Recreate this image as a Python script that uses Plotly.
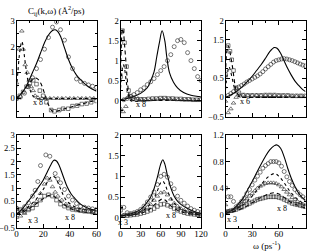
import plotly.graph_objects as go

# ---------------- data ----------------
# Panel 1 (top-left)
p1_solid_x = [0, 3, 6, 9, 12, 15, 18, 21, 24, 27, 29, 31, 33, 36, 39, 42, 45, 48, 51, 54, 57, 60]
p1_solid_y = [0.0, 0.15, 0.35, 0.65, 1.0, 1.35, 1.75, 2.15, 2.45, 2.62, 2.65, 2.58, 2.4, 1.95, 1.5, 1.15, 0.9, 0.72, 0.57, 0.45, 0.35, 0.28]
p1_circ_x = [0, 3, 6, 9, 12, 15, 18, 21, 24, 27, 30, 33, 36, 39, 42, 45, 48, 51, 54, 57, 60]
p1_circ_y = [0.0, 0.05, 0.2, 0.45, 0.8, 1.15, 1.5, 1.9, 2.35, 2.75, 2.95, 2.65, 2.25, 1.6, 1.15, 0.75, 0.65, 0.58, 0.52, 0.47, 0.42]
p1_dot_x = [0, 1, 2, 3, 4, 5, 6, 7, 8, 9, 10, 12, 14, 16, 20, 30, 40, 50, 60]
p1_dot_y = [0.4, 1.0, 1.6, 2.0, 2.2, 2.0, 1.6, 1.2, 0.85, 0.55, 0.35, 0.12, 0.02, -0.02, 0.0, 0.0, 0.0, 0.0, 0.0]
p1_tri_x = [0, 2, 4, 5, 6.5, 8, 9.5, 11, 12.5, 14, 16, 19, 22, 25, 28, 31, 34, 37, 40, 43, 46, 49, 52, 55, 58]
p1_tri_y = [0.6, 1.9, 2.6, 1.9, 1.3, 1.0, 0.7, 0.45, 0.3, 0.1, 0.03, 0.0, 0.0, 0.0, 0.0, 0.0, 0.0, 0.0, 0.0, 0.0, 0.0, 0.0, 0.0, 0.0, 0.0]
p1_dash_x = [0, 3, 6, 9, 12, 15, 18, 21, 24, 27, 30, 33, 36, 40, 45, 50, 55, 60]
p1_dash_y = [0.0, 0.15, 0.35, 0.55, 0.72, 0.78, 0.6, 0.2, -0.25, -0.5, -0.5, -0.45, -0.4, -0.35, -0.27, -0.2, -0.13, -0.08]
p1_sq_x = [0, 2.5, 5, 7.5, 10, 12.5, 15, 17.5, 20, 22.5, 26, 28.5, 32, 35, 38.8, 42, 45.5, 49, 52.6, 56, 60]
p1_sq_y = [0.0, 0.1, 0.25, 0.45, 0.6, 0.7, 0.55, 0.3, 0.1, -0.15, -0.45, -0.5, -0.45, -0.4, -0.4, -0.3, -0.28, -0.22, -0.2, -0.15, -0.1]

# Panel 2 (top-middle)
p2_solid_x = [0, 10, 20, 30, 40, 44, 50, 54, 58, 62, 66, 69, 73, 79, 85, 94, 105, 117, 120]
p2_solid_y = [0.02, 0.05, 0.1, 0.18, 0.32, 0.46, 0.72, 1.09, 1.45, 1.75, 1.5, 1.09, 0.7, 0.46, 0.32, 0.2, 0.13, 0.1, 0.09]
p2_circ_x = [5, 10, 15, 20, 25, 30, 35, 40, 45, 50, 55, 60, 65, 70, 75, 80, 85, 90, 95, 100, 105, 110, 115, 120]
p2_circ_y = [0.02, 0.05, 0.1, 0.15, 0.2, 0.27, 0.32, 0.4, 0.47, 0.55, 0.65, 0.75, 0.85, 1.0, 1.15, 1.35, 1.5, 1.53, 1.45, 1.2, 1.0, 0.8, 0.6, 0.5]
p2_dot_x = [0, 2, 4, 6, 8, 10, 12, 15, 20, 40, 60, 80, 100, 120]
p2_dot_y = [0.3, 0.7, 0.9, 0.8, 0.55, 0.3, 0.12, 0.0, -0.02, 0.0, 0.0, 0.0, 0.0, 0.0]
p2_tri_x = [0, 4, 8, 12, 16, 20, 26, 32, 38, 44, 50, 56, 62, 68, 74, 80, 86, 92, 98, 104, 110, 116]
p2_tri_y = [-0.2, -0.28, -0.15, 0.1, 0.12, 0.08, 0.05, 0.03, 0.02, 0.02, 0.03, 0.04, 0.05, 0.05, 0.04, 0.03, 0.03, 0.02, 0.02, 0.02, 0.01, 0.01]
p2_dash_x = [0, 1.5, 3, 4.5, 6, 7.5, 9, 10.5, 12, 14, 17, 20, 40, 60, 80, 100, 120]
p2_dash_y = [0.6, 1.5, 1.8, 1.7, 1.4, 1.1, 0.75, 0.45, 0.22, 0.08, 0.02, 0.0, 0.0, 0.01, 0.01, 0.0, 0.0]
p2_sq_x = [0, 3, 6, 9, 12, 18, 24, 30, 36, 42, 48, 54, 60, 66, 72, 78, 84, 90, 96, 102, 108, 114, 120]
p2_sq_y = [0.6, 1.75, 1.45, 0.85, 0.25, 0.04, 0.03, 0.03, 0.03, 0.04, 0.05, 0.05, 0.06, 0.06, 0.05, 0.05, 0.04, 0.04, 0.03, 0.03, 0.02, 0.02, 0.02]

# Panel 3 (top-right)
p3_solid_x = [0, 5, 10, 15, 20, 25, 30, 35, 40, 45, 50, 55, 58, 62, 66, 70, 74, 78, 82, 86, 90]
p3_solid_y = [0.0, 0.05, 0.12, 0.2, 0.3, 0.42, 0.55, 0.7, 0.85, 1.02, 1.2, 1.3, 1.28, 1.15, 0.95, 0.75, 0.58, 0.43, 0.32, 0.22, 0.15]
p3_circ_x = [3, 6, 9, 12, 15, 18, 21, 24, 27, 30, 33, 36, 39, 42, 45, 48, 51, 54, 57, 60, 63, 66, 69, 72, 75, 78, 81, 84, 87, 90]
p3_circ_y = [0.05, 0.1, 0.15, 0.22, 0.27, 0.31, 0.35, 0.4, 0.44, 0.48, 0.52, 0.56, 0.61, 0.67, 0.74, 0.8, 0.86, 0.92, 0.96, 0.98, 1.0, 1.01, 1.0, 0.98, 0.96, 0.93, 0.9, 0.87, 0.84, 0.82]
p3_dot_x = [0, 2, 4, 6, 8, 10, 12, 15, 20, 40, 60, 90]
p3_dot_y = [0.2, 0.6, 0.8, 0.65, 0.45, 0.25, 0.1, 0.02, 0.0, 0.0, 0.0, 0.0]
p3_tri_x = [0, 3, 6, 9, 12, 15, 20, 25, 30, 35, 40, 45, 50, 55, 60, 65, 70, 75, 80, 85, 90]
p3_tri_y = [-0.1, -0.4, -0.3, -0.15, 0.0, 0.08, 0.06, 0.05, 0.05, 0.05, 0.05, 0.05, 0.05, 0.05, 0.04, 0.04, 0.04, 0.03, 0.03, 0.03, 0.03]
p3_dash_x = [0, 1.5, 3, 4.5, 6, 7.5, 9, 10.5, 12, 14, 17, 20, 40, 60, 90]
p3_dash_y = [0.6, 1.2, 1.35, 1.25, 1.05, 0.85, 0.6, 0.35, 0.18, 0.08, 0.02, 0.0, 0.0, 0.0, 0.0]
p3_sq_x = [0, 3, 5, 7, 9, 12, 15, 20, 25, 30, 35, 40, 45, 50, 55, 60, 65, 70, 75, 80, 85, 90]
p3_sq_y = [0.6, 1.35, 1.2, 0.98, 0.7, 0.25, 0.12, 0.06, 0.05, 0.05, 0.05, 0.05, 0.06, 0.06, 0.06, 0.05, 0.05, 0.05, 0.04, 0.04, 0.04, 0.04]

# Panel 4 (bottom-left)
p4_solid_x = [0, 4, 8, 12, 16, 20, 23, 26, 28, 30, 32, 35, 38, 41, 44, 48, 52, 56, 60]
p4_solid_y = [0.0, 0.2, 0.45, 0.72, 1.0, 1.3, 1.6, 1.9, 2.05, 2.02, 1.85, 1.45, 1.05, 0.78, 0.6, 0.4, 0.28, 0.2, 0.17]
p4_circ_x = [0, 3, 6, 9, 12, 14, 16, 18, 22, 25, 29, 31, 33, 36, 39, 42, 45, 48, 51, 54, 57, 60]
p4_circ_y = [0.25, 0.2, 0.3, 0.45, 0.7, 0.92, 1.25, 1.85, 2.25, 2.2, 1.55, 1.35, 1.2, 0.95, 0.7, 0.55, 0.42, 0.32, 0.28, 0.25, 0.22, 0.2]
p4_dot_x = [0, 5, 10, 15, 20, 24, 27, 29, 32, 35, 38, 42, 46, 50, 55, 60]
p4_dot_y = [0.05, 0.15, 0.35, 0.6, 0.95, 1.3, 1.45, 1.4, 1.1, 0.75, 0.5, 0.35, 0.25, 0.2, 0.15, 0.12]
p4_tri_x = [0, 3, 6, 9, 12, 15, 18, 21, 23, 25, 27, 29, 31, 34, 37, 40, 43, 46, 50, 55, 60]
p4_tri_y = [-0.1, -0.05, 0.05, 0.2, 0.35, 0.5, 0.8, 1.15, 1.38, 1.3, 1.05, 0.85, 0.7, 0.55, 0.4, 0.3, 0.25, 0.2, 0.15, 0.12, 0.1]
p4_dash_x = [0, 5, 10, 15, 20, 24, 27, 30, 34, 38, 42, 48, 54, 60]
p4_dash_y = [0.0, 0.1, 0.25, 0.42, 0.6, 0.72, 0.72, 0.62, 0.45, 0.3, 0.2, 0.12, 0.08, 0.05]
p4_sq_x = [0, 3, 6, 9, 12, 15, 18, 21, 24, 27, 30, 33, 36, 39, 42, 45, 48, 51, 54, 57, 60]
p4_sq_y = [0.22, 0.15, 0.12, 0.18, 0.25, 0.38, 0.55, 0.7, 0.75, 0.7, 0.55, 0.4, 0.32, 0.25, 0.2, 0.18, 0.15, 0.13, 0.12, 0.1, 0.1]

# Panel 5 (bottom-middle)
p5_solid_x = [0, 10, 20, 30, 40, 45, 50, 55, 60, 63, 66, 70, 75, 80, 85, 90, 100, 110, 120]
p5_solid_y = [0.05, 0.07, 0.12, 0.2, 0.38, 0.5, 0.7, 0.98, 1.3, 1.4, 1.3, 1.02, 0.72, 0.52, 0.4, 0.32, 0.22, 0.15, 0.1]
p5_circ_x = [0, 5, 10, 15, 20, 25, 30, 35, 40, 45, 50, 55, 60, 65, 70, 75, 80, 85, 90, 95, 100, 105, 110, 115, 120]
p5_circ_y = [0.25, 0.25, 0.12, 0.1, 0.12, 0.15, 0.2, 0.28, 0.38, 0.5, 0.62, 0.8, 1.0, 1.05, 0.98, 0.82, 0.7, 0.52, 0.42, 0.35, 0.28, 0.22, 0.18, 0.15, 0.12]
p5_dot_x = [0, 20, 30, 40, 50, 55, 60, 63, 66, 70, 75, 80, 90, 100, 120]
p5_dot_y = [0.05, 0.08, 0.15, 0.25, 0.48, 0.65, 0.85, 0.88, 0.82, 0.65, 0.48, 0.35, 0.22, 0.15, 0.08]
p5_tri_x = [0, 5, 10, 15, 20, 25, 30, 35, 40, 45, 50, 55, 60, 65, 70, 75, 80, 85, 90, 95, 100, 105, 110, 115, 120]
p5_tri_y = [0.05, 0.06, 0.07, 0.08, 0.1, 0.12, 0.15, 0.2, 0.25, 0.32, 0.42, 0.52, 0.6, 0.62, 0.55, 0.45, 0.35, 0.28, 0.22, 0.18, 0.15, 0.12, 0.1, 0.09, 0.08]
p5_dash_x = [0, 20, 30, 40, 50, 57, 62, 67, 72, 80, 90, 100, 120]
p5_dash_y = [0.05, 0.07, 0.1, 0.17, 0.3, 0.4, 0.45, 0.42, 0.33, 0.22, 0.15, 0.1, 0.07]
p5_sq_x = [0, 5, 10, 15, 20, 25, 30, 35, 40, 45, 50, 55, 60, 65, 70, 75, 80, 85, 90, 95, 100, 105, 110, 115, 120]
p5_sq_y = [0.18, 0.05, 0.05, 0.06, 0.07, 0.08, 0.1, 0.12, 0.15, 0.18, 0.22, 0.27, 0.32, 0.33, 0.3, 0.27, 0.22, 0.18, 0.15, 0.12, 0.1, 0.09, 0.08, 0.07, 0.06]

# Panel 6 (bottom-right)
p6_solid_x = [0, 5, 10, 15, 20, 25, 30, 35, 40, 45, 50, 55, 58, 62, 66, 70, 74, 78, 82, 86, 90]
p6_solid_y = [0.02, 0.05, 0.1, 0.17, 0.25, 0.38, 0.5, 0.63, 0.76, 0.88, 0.98, 1.04, 1.05, 1.0, 0.87, 0.7, 0.55, 0.43, 0.33, 0.26, 0.22]
p6_circ_x = [3, 6, 9, 12, 15, 18, 21, 24, 27, 30, 33, 36, 39, 42, 45, 48, 51, 54, 57, 60, 63, 66, 69, 72, 75, 78, 81, 84, 87, 90]
p6_circ_y = [0.27, 0.27, 0.2, 0.12, 0.15, 0.2, 0.25, 0.32, 0.38, 0.45, 0.52, 0.58, 0.64, 0.7, 0.74, 0.77, 0.8, 0.8, 0.8, 0.78, 0.73, 0.65, 0.57, 0.5, 0.44, 0.38, 0.34, 0.3, 0.27, 0.24]
p6_dot_x = [0, 10, 20, 30, 40, 48, 55, 60, 66, 72, 78, 84, 90]
p6_dot_y = [0.05, 0.08, 0.15, 0.28, 0.45, 0.57, 0.62, 0.58, 0.48, 0.36, 0.27, 0.2, 0.15]
p6_tri_x = [0, 3, 6, 9, 12, 15, 18, 21, 24, 27, 30, 33, 36, 39, 42, 45, 48, 51, 54, 57, 60, 63, 66, 69, 72, 75, 78, 81, 84, 87, 90]
p6_tri_y = [0.15, 0.05, 0.05, 0.07, 0.1, 0.13, 0.16, 0.2, 0.24, 0.28, 0.32, 0.36, 0.4, 0.43, 0.45, 0.47, 0.48, 0.48, 0.48, 0.47, 0.45, 0.42, 0.38, 0.34, 0.3, 0.26, 0.23, 0.2, 0.18, 0.16, 0.15]
p6_dash_x = [0, 10, 20, 30, 40, 48, 55, 60, 66, 72, 80, 90]
p6_dash_y = [0.02, 0.05, 0.1, 0.18, 0.26, 0.31, 0.33, 0.31, 0.26, 0.2, 0.15, 0.1]
p6_sq_x = [0, 3, 6, 9, 12, 15, 18, 21, 24, 27, 30, 33, 36, 39, 42, 45, 48, 51, 54, 57, 60, 63, 66, 69, 72, 75, 78, 81, 84, 87, 90]
p6_sq_y = [0.4, 0.05, 0.06, 0.07, 0.08, 0.1, 0.11, 0.13, 0.15, 0.17, 0.19, 0.21, 0.23, 0.24, 0.25, 0.26, 0.27, 0.27, 0.27, 0.27, 0.26, 0.25, 0.23, 0.21, 0.19, 0.17, 0.16, 0.15, 0.14, 0.13, 0.12]

# axis ranges / ticks per panel
x_ranges = [[0, 60], [0, 120], [0, 90], [0, 60], [0, 120], [0, 90]]
x_dticks = [20, 30, 30, 20, 30, 30]
y_ranges = [[-0.7, 3], [-0.4, 2], [-0.5, 2], [-0.5, 3], [-0.25, 2], [-0.2, 1.2]]
y_dticks = [1, 0.5, 0.5, 0.5, 0.5, 0.4]

# scale-factor labels: (panel, x, y, text)
scale_labels = [
    (1, 16, -0.17, "x 8"),
    (2, 31, -0.1, "x 8"),
    (3, 22, -0.1, "x 6"),
    (4, 12, -0.2, "x 3"),
    (4, 40, -0.1, "x 8"),
    (5, 4, -0.12, "x 3"),
    (5, 76, 0.05, "x 8"),
    (6, 7, -0.07, "x 3"),
    (6, 63, 0.1, "x 8"),
]

panels = [
    (p1_solid_x, p1_solid_y, p1_circ_x, p1_circ_y, p1_dot_x, p1_dot_y, p1_tri_x, p1_tri_y, p1_dash_x, p1_dash_y, p1_sq_x, p1_sq_y),
    (p2_solid_x, p2_solid_y, p2_circ_x, p2_circ_y, p2_dot_x, p2_dot_y, p2_tri_x, p2_tri_y, p2_dash_x, p2_dash_y, p2_sq_x, p2_sq_y),
    (p3_solid_x, p3_solid_y, p3_circ_x, p3_circ_y, p3_dot_x, p3_dot_y, p3_tri_x, p3_tri_y, p3_dash_x, p3_dash_y, p3_sq_x, p3_sq_y),
    (p4_solid_x, p4_solid_y, p4_circ_x, p4_circ_y, p4_dot_x, p4_dot_y, p4_tri_x, p4_tri_y, p4_dash_x, p4_dash_y, p4_sq_x, p4_sq_y),
    (p5_solid_x, p5_solid_y, p5_circ_x, p5_circ_y, p5_dot_x, p5_dot_y, p5_tri_x, p5_tri_y, p5_dash_x, p5_dash_y, p5_sq_x, p5_sq_y),
    (p6_solid_x, p6_solid_y, p6_circ_x, p6_circ_y, p6_dot_x, p6_dot_y, p6_tri_x, p6_tri_y, p6_dash_x, p6_dash_y, p6_sq_x, p6_sq_y),
]

# ---------------- layout geometry ----------------
W, H = 310, 252
x_px = [(16.5, 96.5), (120.5, 201), (225.5, 305.5)]
y_px = [(20.7, 116.5), (135, 228)]
FONT = "Liberation Serif, Times New Roman, serif"

fig = go.Figure()
layout = dict(width=W, height=H, margin=dict(l=0, r=0, t=0, b=0, autoexpand=False),
              paper_bgcolor="white", plot_bgcolor="white", showlegend=False,
              font=dict(family=FONT, size=9, color="black"))

for i in range(6):
    n = i + 1
    col = i % 3
    row = i // 3
    xa = "x" if n == 1 else f"x{n}"
    ya = "y" if n == 1 else f"y{n}"
    xkey = "xaxis" if n == 1 else f"xaxis{n}"
    ykey = "yaxis" if n == 1 else f"yaxis{n}"
    xd = [x_px[col][0] / W, x_px[col][1] / W]
    yd = [1 - y_px[row][1] / H, 1 - y_px[row][0] / H]
    common = dict(showline=True, linecolor="black", linewidth=1, mirror="ticks",
                  ticks="inside", ticklen=4, tickcolor="black", tickwidth=1,
                  showgrid=False, zeroline=False)
    layout[xkey] = dict(domain=xd, anchor=ya, range=x_ranges[i], dtick=x_dticks[i], tick0=0,
                        showticklabels=(row == 1), ticklabelstandoff=-3,
                        tickfont=dict(family=FONT, size=9, color="black"),
                        minor=dict(ticks="inside", ticklen=2, dtick=x_dticks[i] / 2, tickcolor="black"),
                        **common)
    layout[ykey] = dict(domain=yd, anchor=xa, range=y_ranges[i], dtick=y_dticks[i], tick0=0,
                        ticklabelstandoff=-1,
                        tickfont=dict(family=FONT, size=8.6, color="black"),
                        minor=dict(ticks="inside", ticklen=2, dtick=y_dticks[i] / 2, tickcolor="black"),
                        **common)

    sx, sy, cx, cy, dx, dy, tx, ty, ddx, ddy, qx, qy = panels[i]
    lw = 1.1
    fig.add_trace(go.Scatter(x=sx, y=sy, mode="lines", line=dict(color="black", width=lw, shape="spline"),
                             xaxis=xa, yaxis=ya))
    fig.add_trace(go.Scatter(x=dx, y=dy, mode="lines", line=dict(color="black", width=lw, dash="dot", shape="spline"),
                             xaxis=xa, yaxis=ya))
    fig.add_trace(go.Scatter(x=ddx, y=ddy, mode="lines", line=dict(color="black", width=lw, dash="4px,3px", shape="spline"),
                             xaxis=xa, yaxis=ya))
    mk = dict(color="#222", line=dict(width=0.6, color="#222"))
    fig.add_trace(go.Scatter(x=cx, y=cy, mode="markers",
                             marker=dict(symbol="circle-open", size=4, **mk),
                             xaxis=xa, yaxis=ya))
    fig.add_trace(go.Scatter(x=tx, y=ty, mode="markers",
                             marker=dict(symbol="triangle-up-open", size=4, **mk),
                             xaxis=xa, yaxis=ya))
    fig.add_trace(go.Scatter(x=qx, y=qy, mode="markers",
                             marker=dict(symbol="square-open", size=3.6, **mk),
                             xaxis=xa, yaxis=ya))

annotations = []
for (pn, ax_, ay_, txt) in scale_labels:
    annotations.append(dict(x=ax_, y=ay_, xref=("x" if pn == 1 else f"x{pn}"), yref=("y" if pn == 1 else f"y{pn}"),
                            text=txt, showarrow=False, font=dict(family=FONT, size=8, color="black"),
                            xanchor="center", yanchor="middle"))
annotations.append(dict(x=56 / W, y=1 - 11 / H, xref="paper", yref="paper",
                        text="C<sub>ij</sub>(k,ω) (Å<sup>2</sup>/ps)", showarrow=False,
                        font=dict(family=FONT, size=9, color="black"), xanchor="center", yanchor="middle"))
annotations.append(dict(x=266 / W, y=1 - 245 / H, xref="paper", yref="paper",
                        text="ω (ps<sup>-1</sup>)", showarrow=False,
                        font=dict(family=FONT, size=9, color="black"), xanchor="center", yanchor="middle"))
layout["annotations"] = annotations
fig.update_layout(**layout)
fig.write_html("out.html", config={"displayModeBar": False},
               post_script="document.body.style.margin='0';document.body.style.overflow='hidden';")
